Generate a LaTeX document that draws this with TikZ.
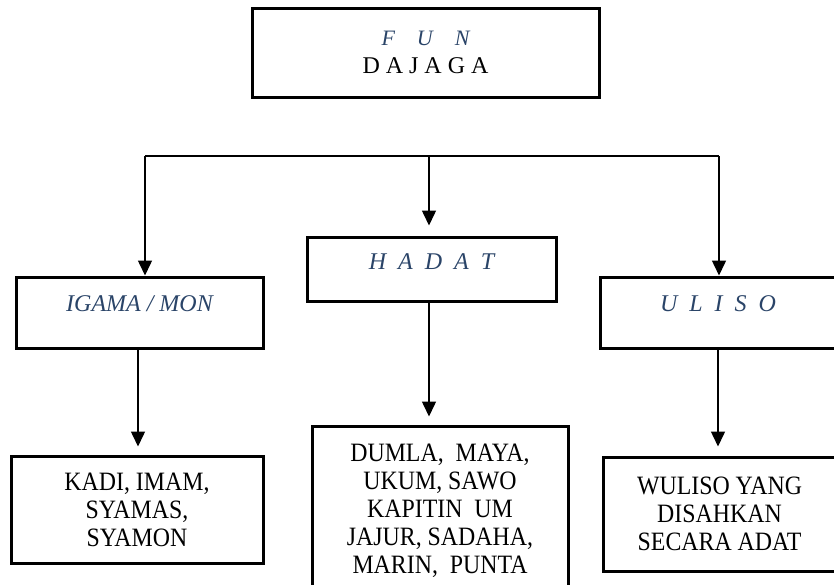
\documentclass[tikz,border=0pt]{standalone}
\usepackage{fontspec}
\setmainfont{Liberation Serif}
\newfontfamily\tallfont{Liberation Serif}[FakeStretch=0.9]
\usetikzlibrary{arrows.meta}
\definecolor{lblue}{HTML}{2A4468}
\newcommand\lsp{\hspace{0.5em}}
\begin{document}
\begin{tikzpicture}[x=1pt,y=-1pt,
  box/.style={draw, line width=3pt, rectangle, inner sep=2pt, align=center,
    font=\fontsize{24}{28}\selectfont},
  body/.style={box, font=\tallfont\fontsize{26.5}{28}\selectfont},
  lbl/.style={box, text=lblue, font=\fontsize{24}{28}\selectfont\itshape},
  conn/.style={line width=1.5pt},
  arr/.style={line width=1.5pt, -{Triangle[length=15pt,width=14pt]}}]
\useasboundingbox (0,0) rectangle (834,584);
% top box
\node[box, minimum width=347pt, minimum height=89pt] (top) at (425.5,52.5)
  {{\fontsize{22}{28}\selectfont\itshape\color{lblue}F\hspace{1em}U\hspace{1em}N}\\D A J A G A};
% second level
\node[lbl, minimum width=247pt, minimum height=71pt, text height=17pt, text depth=20pt] (igama) at (139.5,312.5) {IGAMA / MON};
\node[lbl, minimum width=249pt, minimum height=64pt, text height=17pt, text depth=17pt] (hadat) at (431.5,269) {H\lsp A\lsp D\lsp A\lsp T};
\node[lbl, minimum width=236pt, minimum height=71pt, text height=17pt, text depth=20pt] (uliso) at (718,312.5) {U\lsp L\lsp I\lsp S\lsp O};
% third level
\node[body, minimum width=252pt, minimum height=107pt] (kadi) at (137,509.5) {KADI, IMAM,\\SYAMAS,\\SYAMON};
\node[body, minimum width=256pt, minimum height=170pt] (dumla) at (440,511) {DUMLA,\ \ MAYA,\\UKUM, SAWO\\KAPITIN\ \ UM\\JAJUR, SADAHA,\\MARIN,\ \ PUNTA};
\node[body, minimum width=233pt, minimum height=114pt] (wuliso) at (719.5,514) {WULISO YANG\\DISAHKAN\\SECARA ADAT};
% connectors
\coordinate (jl) at (145,156);
\coordinate (jm) at (429,156);
\coordinate (jr) at (719,156);
\draw[conn] (jl) -- (jr);
\draw[arr] (jl) -- (jl |- igama.north);
\draw[arr, shorten >=10pt] (jm) -- (jm |- hadat.north);
\draw[arr] (jr) -- (jr |- uliso.north);
\draw[arr, shorten >=8pt] ([xshift=-1.5pt]igama.south) -- ([xshift=-1.5pt]igama.south |- kadi.north);
\draw[arr, shorten >=8pt] ([xshift=-2.5pt]hadat.south) -- ([xshift=-2.5pt]hadat.south |- dumla.north);
\draw[arr, shorten >=9pt] (uliso.south) -- (uliso.south |- wuliso.north);
\end{tikzpicture}
\end{document}
